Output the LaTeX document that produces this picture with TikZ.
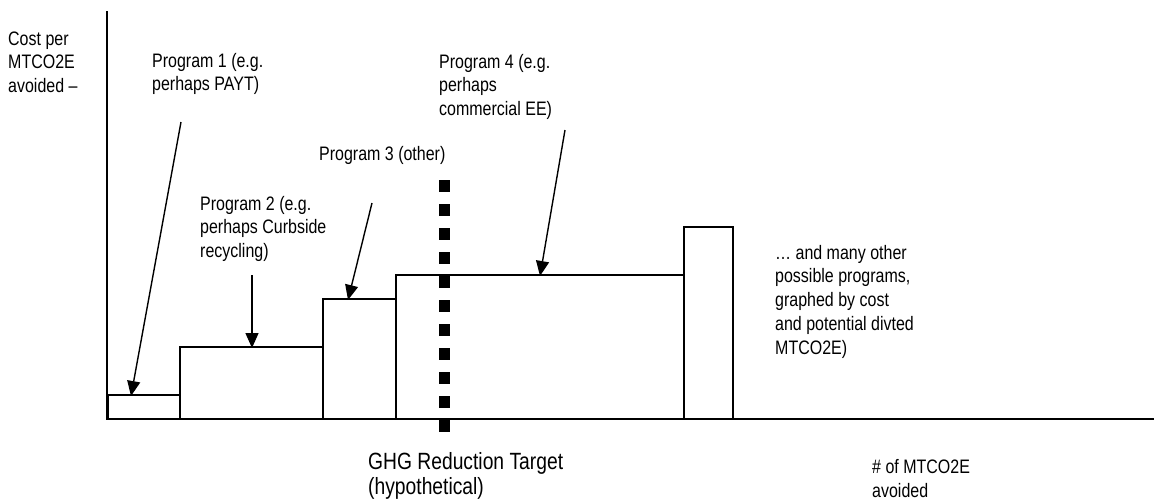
\documentclass[tikz,border=0pt]{standalone}
\usepackage{fontspec}
\setmainfont{Liberation Sans}
\newfontfamily\narrowfont[FakeStretch=0.82]{Liberation Sans}
\usetikzlibrary{arrows.meta}
% label text: strut height is 0.7 of the line spacing (16.7pt here)
\newcommand{\lblfont}{\narrowfont\fontsize{19.5}{23.8}\selectfont}
\newcommand{\bigfont}{\narrowfont\fontsize{23.5}{22.5}\selectfont}
\tikzset{
  lbl/.style={anchor=north west, inner sep=0pt, align=left, font=\lblfont},
  biglbl/.style={anchor=north west, inner sep=0pt, align=left, font=\bigfont},
  bar/.style={draw=black, line width=1.6pt},
  axis/.style={draw=black, line width=1.8pt},
  pointer/.style={draw=black, line width=1.4pt, -{Triangle[length=15pt,width=13pt]}},
  target/.style={draw=black, line width=11pt, dash pattern=on 12pt off 12pt}
}
\begin{document}
\begin{tikzpicture}[x=1pt, y=-1pt]
  \useasboundingbox (0,0) rectangle (1154,501);

  % cost bars, one per program
  \draw[bar] (108,419) rectangle (180,395);
  \draw[bar] (180,419) rectangle (323,347);
  \draw[bar] (323,419) rectangle (396,299);
  \draw[bar] (396,419) rectangle (684,275);
  \draw[bar] (684,419) rectangle (733,227);

  % axes
  \draw[axis] (107,11) -- (107,420);
  \draw[axis] (106,419) -- (1154,419);

  % reduction target marker
  \coordinate (tgtTop) at (444,180);
  \coordinate (tgtBot) at (444,433);
  \draw[target] (tgtTop) -- (tgtBot);

  % labels (y = first baseline minus strut height)
  \node[lbl] (ylab) at (8,45-16.7) {\strut Cost per\\MTCO2E\\avoided –};
  \node[lbl] (p1) at (152,67-16.7) {\strut Program 1 (e.g.\\perhaps PAYT)};
  \node[lbl] (p2) at (200,210-16.7) {\strut Program 2 (e.g.\\perhaps Curbside\\recycling)};
  \node[lbl] (p3) at (319,160-16.7) {\strut Program 3 (other)};
  \node[lbl] (p4) at (439,68-16.7) {\strut Program 4 (e.g.\\perhaps\\commercial EE)};
  \node[lbl] (more) at (775,259-16.7) {\strut … and many other\\possible programs,\\graphed by cost\\and potential divted\\MTCO2E)};
  \node[biglbl] (tgt) at (368,468-15.75) {\strut GHG Reduction Target\\(hypothetical)};
  \node[lbl] (xlab) at (872,473.5-16.7) {\strut \# of MTCO2E\\avoided};

  % pointer ends
  \coordinate (a1s) at (181,122);
  \coordinate (a1e) at (131,396);
  \coordinate (a2s) at (252,275);
  \coordinate (a2e) at (252,348);
  \coordinate (a3s) at (372,203);
  \coordinate (a3e) at (348,300);
  \coordinate (a4s) at (565,130);
  \coordinate (a4e) at (540,276);

  \draw[pointer] (a1s) -- (a1e);
  \draw[pointer] (a2s) -- (a2e);
  \draw[pointer] (a3s) -- (a3e);
  \draw[pointer] (a4s) -- (a4e);
\end{tikzpicture}
\end{document}
